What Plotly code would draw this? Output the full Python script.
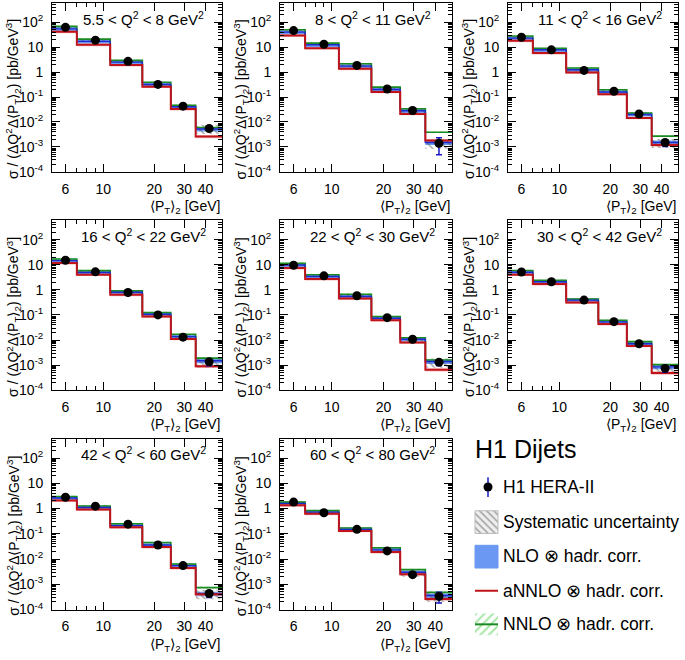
import math
import plotly.graph_objects as go

# <PT>2 binning and bin centres (GeV)
edges = [5, 7, 11, 17, 25, 35, 50]
centres = [6, 9, 14, 21, 29.5, 42]

q2_labels = [
    "5.5 < Q<sup>2</sup> < 8 GeV<sup>2</sup>",
    "8 < Q<sup>2</sup> < 11 GeV<sup>2</sup>",
    "11 < Q<sup>2</sup> < 16 GeV<sup>2</sup>",
    "16 < Q<sup>2</sup> < 22 GeV<sup>2</sup>",
    "22 < Q<sup>2</sup> < 30 GeV<sup>2</sup>",
    "30 < Q<sup>2</sup> < 42 GeV<sup>2</sup>",
    "42 < Q<sup>2</sup> < 60 GeV<sup>2</sup>",
    "60 < Q<sup>2</sup> < 80 GeV<sup>2</sup>",
]

# measured cross sections [pb/GeV^3]
data_xsec = [
    [62, 19, 2.7, 0.32, 0.043, 0.0055],
    [46, 13, 1.85, 0.21, 0.029, 0.0014],
    [25, 7.8, 1.17, 0.17, 0.021, 0.0015],
    [15, 5.2, 0.78, 0.10, 0.013, 0.00135],
    [9.5, 3.6, 0.58, 0.078, 0.0107, 0.0013],
    [5.1, 2.1, 0.39, 0.054, 0.0071, 0.00074],
    [2.8, 1.24, 0.24, 0.036, 0.0055, 0.00043],
    [1.8, 0.68, 0.15, 0.021, 0.0024, 0.00033],
]
# relative statistical errors
stat_rel = [
    [0.01, 0.01, 0.02, 0.03, 0.06, 0.15],
    [0.01, 0.01, 0.02, 0.03, 0.08, 0.65],
    [0.01, 0.01, 0.02, 0.03, 0.07, 0.30],
    [0.01, 0.01, 0.02, 0.03, 0.07, 0.30],
    [0.01, 0.01, 0.02, 0.03, 0.07, 0.25],
    [0.01, 0.02, 0.02, 0.04, 0.08, 0.30],
    [0.02, 0.02, 0.03, 0.05, 0.10, 0.30],
    [0.02, 0.03, 0.04, 0.06, 0.12, 0.45],
]
syst_rel = [0.10, 0.10, 0.10, 0.12, 0.18, 0.40]

nlo = [
    [54, 17, 2.5, 0.32, 0.041, 0.0052],
    [40, 12.4, 1.74, 0.20, 0.028, 0.0015],
    [23, 7.8, 1.24, 0.16, 0.020, 0.0015],
    [14.5, 4.9, 0.80, 0.106, 0.0137, 0.0015],
    [9.7, 3.4, 0.54, 0.074, 0.0107, 0.0014],
    [5.0, 2.1, 0.39, 0.053, 0.0071, 0.00085],
    [2.6, 1.1, 0.21, 0.036, 0.0055, 0.00042],
    [1.6, 0.72, 0.15, 0.023, 0.0030, 0.00036],
]
nlo_unc = [0.18, 0.18, 0.18, 0.18, 0.18, 0.20]

annlo = [
    [41, 12.4, 1.9, 0.26, 0.033, 0.0026],
    [29, 9.1, 1.36, 0.16, 0.021, 0.0018],
    [18, 5.8, 0.97, 0.13, 0.0145, 0.0012],
    [11.7, 4.0, 0.63, 0.086, 0.011, 0.0009],
    [7.4, 2.7, 0.45, 0.062, 0.0079, 0.00065],
    [4.0, 1.7, 0.31, 0.043, 0.0058, 0.00049],
    [2.1, 0.91, 0.18, 0.030, 0.0044, 0.00040],
    [1.35, 0.62, 0.13, 0.019, 0.0025, 0.00026],
]
annlo_unc = [0.12, 0.12, 0.12, 0.12, 0.12, 0.15]

nnlo = [
    [68, 21, 2.95, 0.39, 0.047, 0.0060],
    [50, 14.4, 2.15, 0.25, 0.034, 0.0039],
    [28, 8.9, 1.45, 0.195, 0.023, 0.0027],
    [17, 5.8, 0.91, 0.123, 0.017, 0.0019],
    [11.3, 4.0, 0.67, 0.086, 0.0123, 0.0016],
    [5.9, 2.4, 0.43, 0.061, 0.0086, 0.00105],
    [3.0, 1.27, 0.25, 0.045, 0.0064, 0.00074],
    [1.8, 0.83, 0.17, 0.028, 0.0038, 0.00048],
]
nnlo_unc = [0.08, 0.08, 0.08, 0.08, 0.08, 0.10]

#===========================================================================================================#

FONT = "Liberation Sans, Arial, Helvetica, sans-serif"
BLUE_FILL = "#6a98f2"
BLUE_LINE = "#1c2bd0"
RED = "#c0141a"
RED_FILL = "rgba(235,130,130,0.55)"
GREEN = "#1b8a22"
GREEN_HATCH = "#4fcf4f"
ERR_BLUE = "#1818c8"

col_x = [(52, 222), (280, 452), (508, 678)]
row_y = [(3, 174), (223, 395), (444, 617)]
W, H = 685, 660

fig = go.Figure()


def step(vals):
    return list(vals) + [vals[-1]]


def add_band(lo, hi, xa, ya, fillcolor, pattern=None):
    fig.add_trace(go.Scatter(x=edges, y=step(lo), mode="lines", line=dict(width=0, shape="hv"),
                             xaxis=xa, yaxis=ya, showlegend=False, hoverinfo="skip"))
    fig.add_trace(go.Scatter(x=edges, y=step(hi), mode="lines", line=dict(width=0, shape="hv"),
                             fill="tonexty", fillcolor=fillcolor, fillpattern=pattern,
                             xaxis=xa, yaxis=ya, showlegend=False, hoverinfo="skip"))


def add_line(vals, xa, ya, color, width):
    fig.add_trace(go.Scatter(x=edges, y=step(vals), mode="lines", line=dict(color=color, width=width, shape="hv"),
                             xaxis=xa, yaxis=ya, showlegend=False, hoverinfo="skip"))


ytickvals = [1e-4, 1e-3, 1e-2, 1e-1, 1, 10, 100]
yticktext = ["10<sup>-4</sup>", "10<sup>-3</sup>", "10<sup>-2</sup>", "10<sup>-1</sup>", "1", "10", "10<sup>2</sup>"]
yminor = [m * 10 ** e for e in range(-4, 3) for m in range(2, 10)]
xminor = [5, 7, 8, 9, 50]

annotations = []
for i in range(8):
    r, c = divmod(i, 3)
    suf = "" if i == 0 else str(i + 1)
    xa, ya = "x" + suf, "y" + suf
    xl, yl = "xaxis" + suf, "yaxis" + suf

    nl, na, nn, d = nlo[i], annlo[i], nnlo[i], data_xsec[i]
    add_band([v * (1 - u) for v, u in zip(nl, nlo_unc)], [v * (1 + u) for v, u in zip(nl, nlo_unc)], xa, ya, BLUE_FILL)
    add_band([v * (1 - u) for v, u in zip(na, annlo_unc)], [v * (1 + u) for v, u in zip(na, annlo_unc)], xa, ya, RED_FILL)
    add_band([v * (1 - u) for v, u in zip(nn, nnlo_unc)], [v * (1 + u) for v, u in zip(nn, nnlo_unc)], xa, ya,
             "rgba(0,0,0,0)", dict(shape="/", fgcolor=GREEN_HATCH, bgcolor="rgba(0,0,0,0)", size=5, solidity=0.3))
    add_band([v * (1 - s) for v, s in zip(d, syst_rel)], [v * (1 + s) for v, s in zip(d, syst_rel)], xa, ya,
             "rgba(0,0,0,0)", dict(shape="\\", fgcolor="#555555", bgcolor="rgba(0,0,0,0)", size=5, solidity=0.3))
    add_line(nn, xa, ya, GREEN, 1.6)
    add_line(nl, xa, ya, BLUE_LINE, 1.4)
    add_line(na, xa, ya, RED, 2)

    fig.add_trace(go.Scatter(x=centres, y=d, mode="markers", xaxis=xa, yaxis=ya, showlegend=False,
                             marker=dict(color="black", size=9),
                             error_y=dict(type="data", array=[v * e for v, e in zip(d, stat_rel[i])],
                                          color=ERR_BLUE, thickness=1.5, width=3)))

    x0, x1 = col_x[c]
    y0, y1 = row_y[r]
    fig.layout[xl] = dict(domain=[x0 / W, x1 / W], anchor=ya, type="log",
                          range=[math.log10(5), math.log10(50)],
                          tickmode="array", tickvals=[6, 10, 20, 30, 40], ticktext=["6", "10", "20", "30", "40"],
                          ticks="inside", ticklen=8, tickcolor="black", showgrid=False, zeroline=False,
                          showline=True, linecolor="black", linewidth=1, mirror="ticks",
                          minor=dict(tickmode="array", tickvals=xminor, ticks="inside", ticklen=4, tickcolor="black", showgrid=False),
                          tickfont=dict(family=FONT, size=14, color="black"), ticklabelstandoff=4)
    fig.layout[yl] = dict(domain=[1 - y1 / H, 1 - y0 / H], anchor=xa, type="log", range=[-4, 2.77],
                          tickmode="array", tickvals=ytickvals, ticktext=yticktext,
                          ticks="inside", ticklen=8, tickcolor="black", showgrid=False, zeroline=False,
                          showline=True, linecolor="black", linewidth=1, mirror="ticks",
                          minor=dict(tickmode="array", tickvals=yminor, ticks="inside", ticklen=4, tickcolor="black", showgrid=False),
                          tickfont=dict(family=FONT, size=14, color="black"), ticklabelstandoff=5)

    annotations.append(dict(text=q2_labels[i], xref=f"{xa} domain", yref=f"{ya} domain", x=0.54, y=0.91,
                            xanchor="center", yanchor="middle",
                            showarrow=False, font=dict(family=FONT, size=15, color="black")))
    annotations.append(dict(text="\u27e8P<sub>T</sub>\u27e9<sub>2</sub> [GeV]", xref=f"{xa} domain", yref=f"{ya} domain",
                            x=1.0, y=-0.205, xanchor="right", yanchor="middle", showarrow=False,
                            font=dict(family=FONT, size=14, color="black")))
    annotations.append(dict(text="\u03c3 / (\u0394Q<sup>2</sup>\u0394\u27e8P<sub>T</sub>\u27e9<sub>2</sub>) [pb/GeV<sup>3</sup>]",
                            xref=f"{xa} domain", yref=f"{ya} domain", x=-0.225, y=0.43, textangle=-90,
                            xanchor="center", yanchor="middle", showarrow=False,
                            font=dict(family=FONT, size=14, color="black")))

# legend panel (pixel-like coordinates on a hidden axis)
fig.layout["xaxis9"] = dict(domain=[460 / W, 1], anchor="y9", range=[460, 685], visible=False)
fig.layout["yaxis9"] = dict(domain=[0, 220 / H], anchor="x9", range=[660, 440], visible=False)

fig.add_trace(go.Scatter(x=[488], y=[493], mode="markers", xaxis="x9", yaxis="y9", showlegend=False, hoverinfo="skip",
                         marker=dict(color="black", size=9),
                         error_y=dict(type="data", array=[10], color=ERR_BLUE, thickness=1.5, width=0)))
fig.add_trace(go.Scatter(x=[475, 498, 498, 475, 475], y=[517, 517, 540, 540, 517], mode="lines", fill="toself",
                         xaxis="x9", yaxis="y9", showlegend=False, hoverinfo="skip",
                         line=dict(color="#bbbbbb", width=1), fillcolor="white",
                         fillpattern=dict(shape="\\", fgcolor="#555555", bgcolor="#eeeeee", size=5, solidity=0.3)))
fig.add_trace(go.Scatter(x=[475, 498, 498, 475, 475], y=[552, 552, 575, 575, 552], mode="lines", fill="toself",
                         xaxis="x9", yaxis="y9", showlegend=False, hoverinfo="skip",
                         line=dict(color=BLUE_FILL, width=1), fillcolor=BLUE_FILL))
fig.add_trace(go.Scatter(x=[475, 498], y=[598, 598], mode="lines", xaxis="x9", yaxis="y9", showlegend=False,
                         hoverinfo="skip", line=dict(color=RED, width=2)))
fig.add_trace(go.Scatter(x=[475, 498, 498, 475, 475], y=[621, 621, 643, 643, 621], mode="lines", fill="toself",
                         xaxis="x9", yaxis="y9", showlegend=False, hoverinfo="skip",
                         line=dict(width=0), fillcolor="rgba(0,0,0,0)",
                         fillpattern=dict(shape="/", fgcolor=GREEN_HATCH, bgcolor="rgba(0,0,0,0)", size=6, solidity=0.35)))
fig.add_trace(go.Scatter(x=[475, 498], y=[632, 632], mode="lines", xaxis="x9", yaxis="y9", showlegend=False,
                         hoverinfo="skip", line=dict(color=GREEN, width=2)))

annotations.append(dict(text="H1 Dijets", xref="x9", yref="y9", x=473, y=455, xanchor="left", yanchor="middle",
                        showarrow=False, font=dict(family=FONT, size=25, color="black")))
for label, yy in [("H1 HERA-II", 493), ("Systematic uncertainty", 528), ("NLO \u2297 hadr. corr.", 563),
                  ("aNNLO \u2297 hadr. corr.", 598), ("NNLO \u2297 hadr. corr.", 632)]:
    annotations.append(dict(text=label, xref="x9", yref="y9", x=501, y=yy, xanchor="left", yanchor="middle",
                            showarrow=False, font=dict(family=FONT, size=17.5, color="black")))

fig.update_layout(width=W, height=H, margin=dict(l=0, r=0, t=0, b=0), autosize=False,
                  paper_bgcolor="white", plot_bgcolor="white", showlegend=False,
                  annotations=annotations, font=dict(family=FONT, color="black"))

fig.write_html("out.html", config={"displayModeBar": False},
               post_script="document.body.style.margin='0px';")
